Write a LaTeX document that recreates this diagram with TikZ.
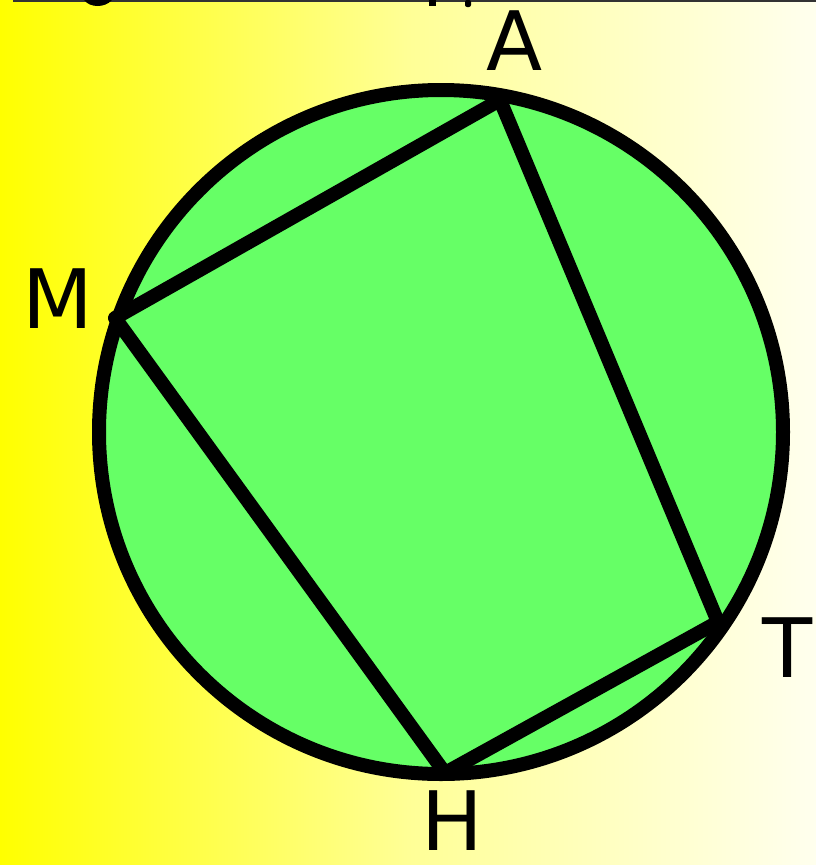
\documentclass[tikz,border=0pt]{standalone}
\usepackage{fontspec}
\setmainfont{DejaVu Sans}
\definecolor{circgreen}{RGB}{102,255,102}
\definecolor{bgright}{RGB}{255,255,238}
\definecolor{bgmid}{RGB}{255,255,150}
\begin{document}
\begin{tikzpicture}[x=1pt,y=-1pt,
  thick line/.style={line width=14pt,black},
  lbl/.style={font=\fontsize{82}{82}\selectfont,inner sep=0pt,anchor=base}]
\useasboundingbox (0,0) rectangle (816,865);
\shade[left color=yellow,right color=bgright,middle color=bgmid] (0,0) rectangle (816,865);
\draw[line width=2pt,black!80] (13,1) -- (816,1);
% cut-off text fragments at top
\fill (84,0) .. controls (90,8) and (105,8) .. (112,0) -- cycle;
\fill (429,0) rectangle (436,6);
\fill[rounded corners=2pt] (465,0) rectangle (471,7);
\coordinate (O) at (441,432);
\coordinate (A) at (500,100);
\coordinate (M) at (115,318);
\coordinate (T) at (718,622);
\coordinate (H) at (445,773);
\fill[circgreen] (O) circle (342);
\draw[thick line,line join=round] (A) -- (M) -- (H) -- (T) -- cycle;
\draw[thick line] (O) circle (342);
\node[lbl] (lA) at (515,70) {A};
\node[lbl] (lM) at (58,328) {M};
\node[lbl] (lT) at (788,677) {T};
\node[lbl] (lH) at (452,850) {H};
\end{tikzpicture}
\end{document}
